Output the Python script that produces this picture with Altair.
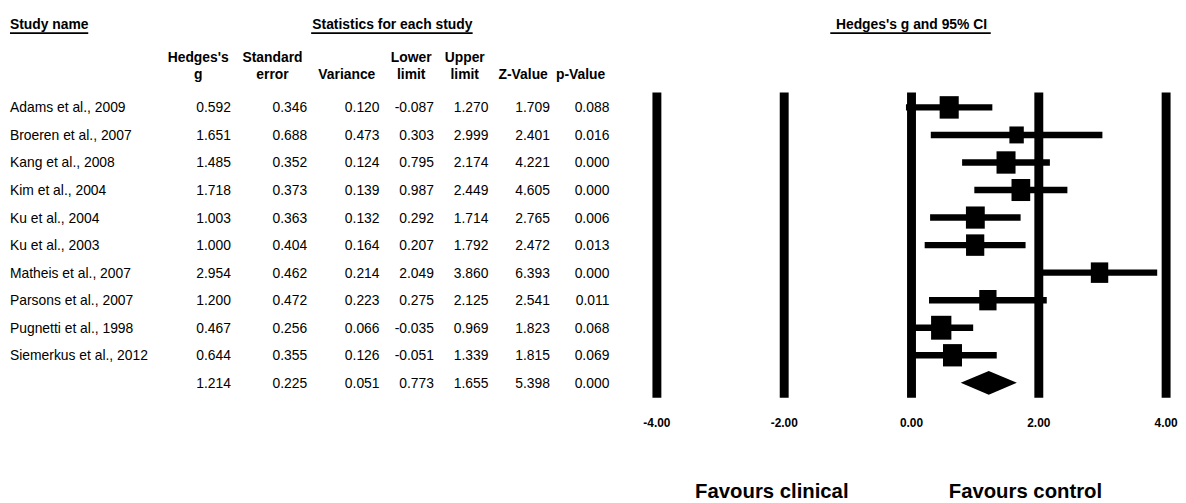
import altair as alt
import pandas as pd

# ---------------- data ----------------
studies = ["Adams et al., 2009", "Broeren et al., 2007", "Kang et al., 2008",
           "Kim et al., 2004", "Ku et al., 2004", "Ku et al., 2003",
           "Matheis et al., 2007", "Parsons et al., 2007", "Pugnetti et al., 1998",
           "Siemerkus et al., 2012"]
hedges_g = [0.592, 1.651, 1.485, 1.718, 1.003, 1.000, 2.954, 1.200, 0.467, 0.644]
std_err = [0.346, 0.688, 0.352, 0.373, 0.363, 0.404, 0.462, 0.472, 0.256, 0.355]
variance = [0.120, 0.473, 0.124, 0.139, 0.132, 0.164, 0.214, 0.223, 0.066, 0.126]
lower = [-0.087, 0.303, 0.795, 0.987, 0.292, 0.207, 2.049, 0.275, -0.035, -0.051]
upper = [1.270, 2.999, 2.174, 2.449, 1.714, 1.792, 3.860, 2.125, 0.969, 1.339]
z_value = [1.709, 2.401, 4.221, 4.605, 2.765, 2.472, 6.393, 2.541, 1.823, 1.815]
p_value = [0.088, 0.016, 0.000, 0.000, 0.006, 0.013, 0.000, 0.011, 0.068, 0.069]

summary_g = 1.214
summary_se = 0.225
summary_var = 0.051
summary_lower = 0.773
summary_upper = 1.655
summary_z = 5.398
summary_p = 0.000

x_ticks = [-4, -2, 0, 2, 4]
tau2 = 0.347  # between-study variance (random-effects weights -> marker area)

# ---------------- tables ----------------
n = len(studies)
study_df = pd.DataFrame({
    "row": list(range(n)), "name": studies, "g": hedges_g, "se": std_err,
    "var": variance, "lo": lower, "hi": upper, "z": z_value, "p": p_value,
})
study_df["w"] = [1.0 / (v + tau2) for v in variance]

table_df = pd.concat([study_df, pd.DataFrame([{
    "row": n, "name": "", "g": summary_g, "se": summary_se, "var": summary_var,
    "lo": summary_lower, "hi": summary_upper, "z": summary_z, "p": summary_p}])],
    ignore_index=True)

DH = 0.43  # diamond half height in row units
diamond_df = pd.DataFrame({
    "x": [summary_lower, summary_g, summary_upper],
    "y": [n, n - DH, n],
    "y2": [n, n + DH, n],
})
tick_df = pd.DataFrame({"tick": x_ticks})

FONT = "Liberation Sans"
MINUS = "\u2212"
xs = alt.Scale(domain=[-4, 4], range=[655, 1169], nice=False, zero=False)
ys = alt.Scale(domain=[0, 10], range=[98, 376], nice=False, zero=False)

base_tab = alt.Chart(table_df)


def label(text, x, y, align="left", size=14, bold=True):
    return alt.Chart(tick_df).transform_filter("datum.tick == 0").mark_text(
        text=text, align=align, baseline="alphabetic", font=FONT, fontSize=size,
        fontWeight="bold" if bold else "normal", color="black"
    ).encode(x=alt.value(x), y=alt.value(y))


def uline(x1, x2, y):
    return alt.Chart(tick_df).transform_filter("datum.tick == 0").mark_rule(
        color="black", strokeWidth=1.6
    ).encode(x=alt.value(x1), x2=alt.value(x2), y=alt.value(y))


layers = []

# vertical reference lines
layers.append(alt.Chart(tick_df).mark_rule(color="black", strokeWidth=9, strokeCap="butt").encode(
    x=alt.X("tick:Q", scale=xs, axis=None),
    y=alt.Y(datum=-0.54, scale=ys, axis=None),
    y2=alt.Y2(datum=10.54),
))
# tick labels
layers.append(alt.Chart(tick_df).transform_calculate(
    lab=f"replace(format(datum.tick, '.2f'), '{MINUS}', '-')"
).mark_text(
    font=FONT, fontSize=12, fontWeight="bold", baseline="middle", align="center", color="black"
).encode(x=alt.X("tick:Q", scale=xs, axis=None), y=alt.value(417), text="lab:N"))

# confidence intervals
layers.append(alt.Chart(study_df).mark_rule(color="black", strokeWidth=6.5, strokeCap="butt").encode(
    x=alt.X("lo:Q", scale=xs, axis=None), x2="hi:Q",
    y=alt.Y("row:Q", scale=ys, axis=None),
))
# weighted boxes
layers.append(alt.Chart(study_df).mark_point(
    shape="M-0.85,-1H0.85V1H-0.85Z", filled=True, opacity=1, color="black", strokeWidth=0
).encode(
    x=alt.X("g:Q", scale=xs, axis=None),
    y=alt.Y("row:Q", scale=ys, axis=None),
    size=alt.Size("w:Q", scale=alt.Scale(domain=[0, 2.4], range=[0, 576]), legend=None),
))
# summary diamond
layers.append(alt.Chart(diamond_df).mark_area(color="black", orient="vertical").encode(
    x=alt.X("x:Q", scale=xs, axis=None),
    y=alt.Y("y:Q", scale=ys, axis=None), y2="y2:Q",
))

# table: study names
layers.append(base_tab.mark_text(
    align="left", baseline="alphabetic", dy=5, font=FONT, fontSize=14, color="black"
).encode(x=alt.value(2), y=alt.Y("row:Q", scale=ys, axis=None), text="name:N"))

# table: numeric columns (right aligned)
for field, xr in [("g", 225), ("se", 302), ("var", 375), ("lo", 430),
                  ("hi", 485), ("z", 547), ("p", 607)]:
    layers.append(base_tab.transform_calculate(
        lab=f"replace(format(datum['{field}'], '.3f'), '{MINUS}', '-')"
    ).mark_text(
        align="right", baseline="alphabetic", dy=5, font=FONT, fontSize=14, color="black"
    ).encode(x=alt.value(xr), y=alt.Y("row:Q", scale=ys, axis=None), text="lab:N"))

# headers
layers += [
    label("Study name", 2, 19), uline(2, 81, 23),
    label("Statistics for each study", 388, 19, align="center"), uline(306, 469, 23),
    label("Hedges's g and 95% CI", 912, 19, align="center"), uline(830, 992, 23),
    label("Hedges's", 192, 52, align="center"), label("g", 192, 69, align="center"),
    label("Standard", 267, 52, align="center"), label("error", 267, 69, align="center"),
    label("Variance", 342, 69, align="center"),
    label("Lower", 407, 52, align="center"), label("limit", 407, 69, align="center"),
    label("Upper", 461, 52, align="center"), label("limit", 461, 69, align="center"),
    label("Z-Value", 520, 69, align="center"),
    label("p-Value", 578, 69, align="center"),
    label("Favours clinical", 771, 492, align="center", size=20.5),
    label("Favours control", 1027, 492, align="center", size=20.5),
]

chart = alt.layer(*layers).properties(
    width=1170, height=495, padding=0
).configure_view(stroke=None)

chart.save("out.html", embed_options={"renderer": "svg", "actions": False})
